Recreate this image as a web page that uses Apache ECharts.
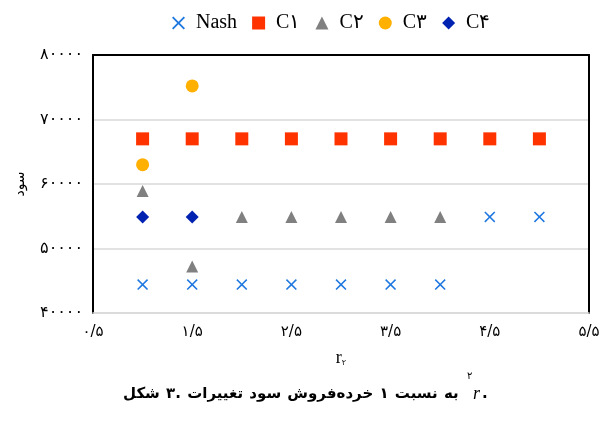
<!DOCTYPE html>
<html>
<head>
<meta charset="utf-8">
<script src="https://cdn.jsdelivr.net/npm/echarts@6/dist/echarts.min.js"></script>
<style>
    html, body { margin: 0; padding: 0; background: #fff; }
    #chart { width: 605px; height: 421px; }
</style>
</head>
<body>
<div id="chart"></div>
<script>
// r2 values
var xValues = [1, 1.5, 2, 2.5, 3, 3.5, 4, 4.5, 5];
var nashData = [44400, 44400, 44400, 44400, 44400, 44400, 44400, 54900, 54900];
var c1Data = [67000, 67000, 67000, 67000, 67000, 67000, 67000, 67000, 67000];
var c2Data = [58900, 47200, 54900, 54900, 54900, 54900, 54900];
var c3Data = [63000, 75200];
var c4Data = [54900, 54900];

var seriesNames = ['Nash', 'C۱', 'C۲', 'C۳', 'C۴'];
var xTicks = [0.5, 1.5, 2.5, 3.5, 4.5, 5.5];
var captionWords = ['شکل', '۳.', 'تغییرات', 'سود', 'خرده‌فروش', '۱', 'نسبت', 'به'];

var crossPath = 'path://M0,1L1,0L5,4L9,0L10,1L6,5L10,9L9,10L5,6L1,10L0,9L4,5Z';

function toFa(v) {
    return String(v).replace(/\d/g, function(d) { return '۰۱۲۳۴۵۶۷۸۹'[d]; }).replace('.', '/');
}

function pairs(ys) {
    let out = [];
    ys.forEach(function(y, i) {
        out.push([xValues[i], y]);
    });
    return out;
}

// caption words are laid out one by one, left to right, like the figure
function buildCaption() {
    let wordFont = 'bold 15px "DejaVu Sans"';
    let rFont = 'italic 18px "Liberation Serif"';
    let ctx = document.createElement('canvas').getContext('2d');
    ctx.font = wordFont;
    let space = ctx.measureText(' ').width + 1;
    let x = 123;
    let y = 394;
    let items = [];
    captionWords.forEach(function(w) {
        items.push({ type: 'text', x: x, y: y, style: { text: w, font: wordFont, fill: '#000', verticalAlign: 'middle' } });
        x += ctx.measureText(w).width + space;
    });
    x += 2;
    items.push({ type: 'text', x: x, y: y - 18, style: { text: '۲', font: '10px "DejaVu Sans"', fill: '#000', verticalAlign: 'middle' } });
    x += 6;
    items.push({ type: 'text', x: x, y: y, style: { text: 'r', font: rFont, fill: '#000', verticalAlign: 'middle' } });
    x += 9;
    items.push({ type: 'text', x: x, y: y, style: { text: '.', font: wordFont, fill: '#000', verticalAlign: 'middle' } });
    return items;
}

var chart = echarts.init(document.getElementById('chart'));

var option = {
    animation: false,
    textStyle: { fontFamily: 'DejaVu Sans' },
    legend: {
        top: 8,
        left: 167,
        itemGap: 15,
        itemWidth: 13,
        itemHeight: 13,
        textStyle: { fontFamily: 'Liberation Serif', fontSize: 20, color: '#000', padding: [0, 0, 0, 6] },
        data: seriesNames
    },
    grid: { left: 93, right: 16, top: 55, bottom: 108 },
    xAxis: [{
        type: 'value',
        min: 0.5,
        max: 5.5,
        interval: 0.5,
        axisLine: { lineStyle: { color: '#d9d9d9', width: 1.5 } },
        axisTick: { show: false },
        splitLine: { show: false },
        axisLabel: {
            margin: 12,
            fontSize: 15,
            color: '#000',
            formatter: function(v) {
                return xTicks.indexOf(v) >= 0 ? toFa(v) : '';
            }
        },
        name: '{r|r}{s|۲}',
        nameLocation: 'middle',
        nameGap: 36,
        nameTextStyle: {
            rich: {
                r: { fontFamily: 'Liberation Serif', fontSize: 18, color: '#000' },
                s: { fontFamily: 'DejaVu Sans', fontSize: 8, color: '#000', padding: [10, 0, 0, 0] }
            }
        }
    }, {
        type: 'value',
        position: 'top',
        min: 0.5,
        max: 5.5,
        axisLine: { show: true, lineStyle: { color: '#000', width: 2 } },
        axisTick: { show: false },
        axisLabel: { show: false },
        splitLine: { show: false }
    }],
    yAxis: [{
        type: 'value',
        min: 40000,
        max: 80000,
        interval: 10000,
        axisLine: { show: true, lineStyle: { color: '#000', width: 2 } },
        axisTick: { show: false },
        splitLine: { lineStyle: { color: '#d9d9d9', width: 1.5 } },
        axisLabel: {
            margin: 10,
            fontSize: 16,
            color: '#000',
            formatter: function(v) { return toFa(v); }
        },
        name: 'سود',
        nameLocation: 'middle',
        nameGap: 66,
        nameTextStyle: { fontSize: 14, color: '#000' }
    }, {
        type: 'value',
        position: 'right',
        min: 40000,
        max: 80000,
        axisLine: { show: true, lineStyle: { color: '#000', width: 2 } },
        axisTick: { show: false },
        axisLabel: { show: false },
        splitLine: { show: false }
    }],
    series: [{
        name: 'Nash',
        type: 'scatter',
        symbol: crossPath,
        symbolSize: 11,
        itemStyle: { color: '#1f78e0', opacity: 1 },
        data: pairs(nashData)
    }, {
        name: 'C۱',
        type: 'scatter',
        symbol: 'rect',
        symbolSize: 13,
        itemStyle: { color: '#ff3300', opacity: 1 },
        data: pairs(c1Data)
    }, {
        name: 'C۲',
        type: 'scatter',
        symbol: 'triangle',
        symbolSize: 12,
        itemStyle: { color: '#808080', opacity: 1 },
        data: pairs(c2Data)
    }, {
        name: 'C۳',
        type: 'scatter',
        symbol: 'circle',
        symbolSize: 13,
        itemStyle: { color: '#ffb000', opacity: 1 },
        data: pairs(c3Data)
    }, {
        name: 'C۴',
        type: 'scatter',
        symbol: 'diamond',
        symbolSize: 13,
        itemStyle: { color: '#0022b0', opacity: 1 },
        data: pairs(c4Data)
    }],
    graphic: buildCaption()
};

chart.setOption(option);
</script>
</body>
</html>
